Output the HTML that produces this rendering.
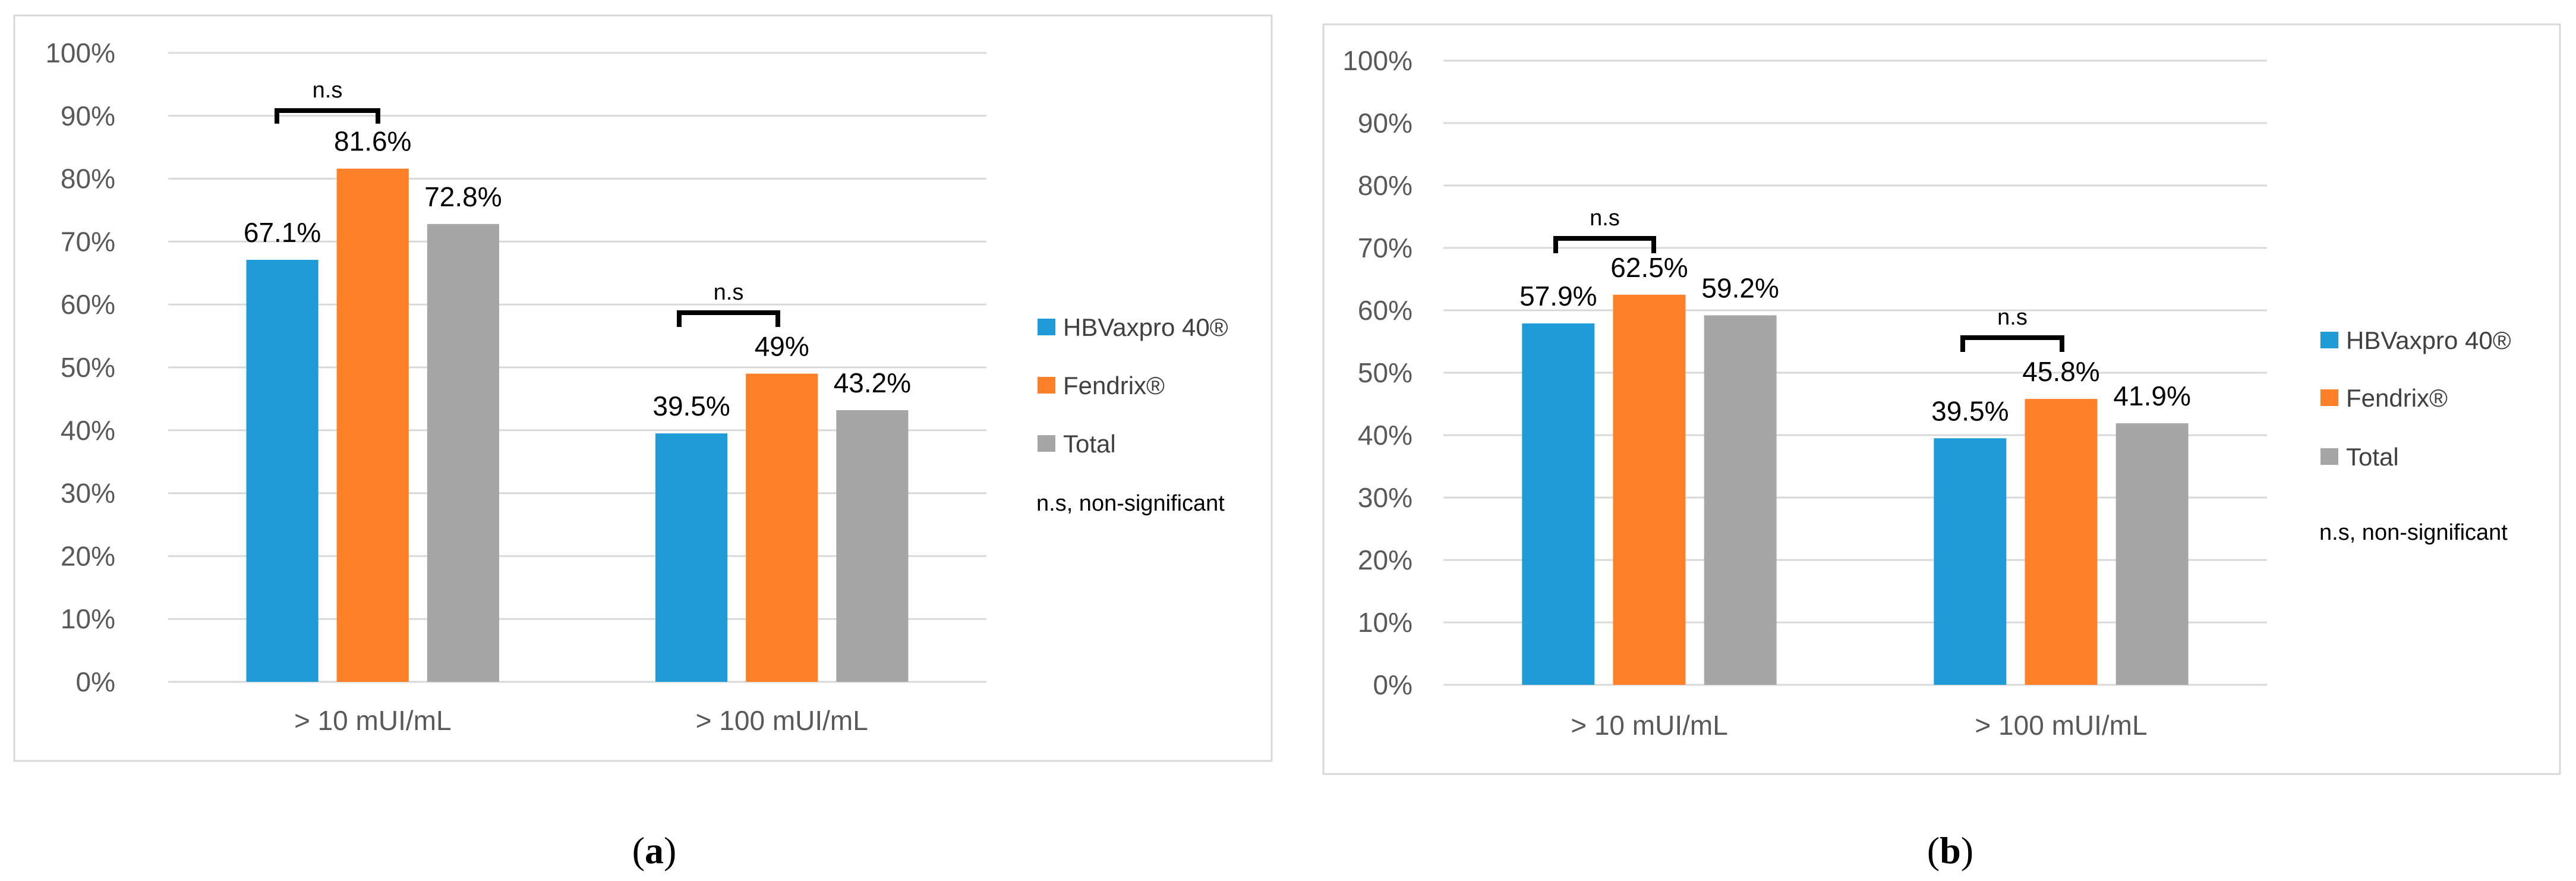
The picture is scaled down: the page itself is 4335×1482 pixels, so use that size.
<!DOCTYPE html>
<html><head><meta charset="utf-8"><style>
html,body{margin:0;padding:0;background:#fff;}
svg{display:block;}
text{font-family:"Liberation Sans Narrow","Liberation Sans",sans-serif;}
</style></head><body>
<svg id="fig" width="4335" height="1482" viewBox="0 0 4335 1482" xmlns="http://www.w3.org/2000/svg"></svg>
<script>
const categories = ["> 10 mUI/mL", "> 100 mUI/mL"];
const seriesNames = ["HBVaxpro 40\u00AE", "Fendrix\u00AE", "Total"];
const valuesA_hbv = [67.1, 39.5];
const valuesA_fen = [81.6, 49];
const valuesA_tot = [72.8, 43.2];
const labelsA = [["67.1%", "39.5%"], ["81.6%", "49%"], ["72.8%", "43.2%"]];
const valuesB_hbv = [57.9, 39.5];
const valuesB_fen = [62.5, 45.8];
const valuesB_tot = [59.2, 41.9];
const labelsB = [["57.9%", "39.5%"], ["62.5%", "45.8%"], ["59.2%", "41.9%"]];
const yTicks = [0, 10, 20, 30, 40, 50, 60, 70, 80, 90, 100];
const yTickLabels = ["0%", "10%", "20%", "30%", "40%", "50%", "60%", "70%", "80%", "90%", "100%"];
const colors = ["#1f9cd8", "#fd7f27", "#a6a6a6"];

const NS = "http://www.w3.org/2000/svg";
const svg = document.getElementById("fig");
function mk(tag, attrs, parent, txt) {
  const e = document.createElementNS(NS, tag);
  for (const k in attrs) e.setAttribute(k, attrs[k]);
  if (txt !== undefined) e.textContent = txt;
  (parent || svg).appendChild(e);
  return e;
}

function panel(cfg) {
  const g = mk("g", {});
  
  
  const border = mk("rect", {x: cfg.bx, y: cfg.by, width: cfg.bw, height: cfg.bh, fill: "#fff", stroke: "#d9d9d9", "stroke-width": 3}, g);
  
  
  const yScale = v => cfg.y0 - (v / 100) * (cfg.y0 - cfg.y100);
  const catW = (cfg.px1 - cfg.px0) / categories.length;
  const barW = catW * 0.176, gap = catW * 0.045;
  const xBar = (ci, si) => cfg.px0 + catW * (ci + 0.5) + (si - 1) * (barW + gap) - barW / 2;
  yTicks.forEach((t, i) => {
    const gl = mk("line", {x1: cfg.px0, x2: cfg.px1, y1: yScale(t), y2: yScale(t), stroke: "#d9d9d9", "stroke-width": 3}, g);
    
    
    const tl = mk("text", {x: cfg.lx, y: yScale(t) + 16, "text-anchor": "end", "font-size": 46, fill: "#595959"}, g, yTickLabels[i]);
    
    
  });
  const series = cfg.values;
  series.forEach((vals, si) => {
    vals.forEach((v, ci) => {
      const x = xBar(ci, si);
      const r = mk("rect", {x: x, y: yScale(v), width: barW, height: yScale(0) - yScale(v), fill: colors[si]}, g);
      
      
      const vl = mk("text", {x: x + barW / 2, y: yScale(v) - 30, "text-anchor": "middle", "font-size": 46, fill: "#000"}, g, cfg.labels[si][ci]);
      
      
    });
  });
  categories.forEach((c, ci) => {
    const cl = mk("text", {x: cfg.px0 + catW * (ci + 0.5), y: cfg.catY, "text-anchor": "middle", "font-size": 46, fill: "#595959"}, g, c);
    
    
  });
  cfg.brackets.forEach(b => {
    const p = mk("path", {d: `M${b.x1},${b.yb} V${b.yt} H${b.x2} V${b.yb}`, fill: "none", stroke: "#000", "stroke-width": 8}, g);
    
    
    const t = mk("text", {x: (b.x1 + b.x2) / 2, y: b.yt - 22, "text-anchor": "middle", "font-size": 38, fill: "#000"}, g, "n.s");
    
    
  });
  seriesNames.forEach((n, si) => {
    const cy = cfg.legY[si];
    const sq = mk("rect", {x: cfg.legX, y: cy - 14, width: 30, height: 28, fill: colors[si]}, g);
    
    
    const lt = mk("text", {x: cfg.legX + 43, y: cy + 15, "font-size": 42, fill: "#404040"}, g, n);
    
    
  });
  const note = mk("text", {x: cfg.legX - 2, y: cfg.noteY + 12, "font-size": 38, fill: "#000"}, g, "n.s, non-significant");
  
  
  const cap = mk("text", {x: cfg.capX, y: cfg.capY, "text-anchor": "middle", "font-size": 64, fill: "#000", style: "font-family:'Liberation Serif',serif"}, g);
  
  
  mk("tspan", {}, cap, "(");
  mk("tspan", {"font-weight": "bold"}, cap, cfg.capLetter);
  mk("tspan", {}, cap, ")");
}

panel({
  name: "chart-a", bx: 24, by: 26, bw: 2116, bh: 1254,
  px0: 283, px1: 1660, y100: 89, y0: 1147, lx: 194, catY: 1228,
  values: [valuesA_hbv, valuesA_fen, valuesA_tot], labels: labelsA,
  brackets: [{x1: 466, x2: 636, yt: 186, yb: 208}, {x1: 1143, x2: 1309, yt: 526, yb: 550}],
  legX: 1746, legY: [550, 648, 746], noteY: 847,
  capX: 1101, capY: 1452, capLetter: "a"
});
panel({
  name: "chart-b", bx: 2227, by: 41, bw: 2081, bh: 1261,
  px0: 2429, px1: 3815, y100: 102, y0: 1152, lx: 2377, catY: 1236,
  values: [valuesB_hbv, valuesB_fen, valuesB_tot], labels: labelsB,
  brackets: [{x1: 2618, x2: 2783, yt: 401, yb: 426}, {x1: 3303, x2: 3470, yt: 568, yb: 592}],
  legX: 3905, legY: [572, 669, 768], noteY: 896,
  capX: 3282, capY: 1452, capLetter: "b"
});
</script>
</body></html>
